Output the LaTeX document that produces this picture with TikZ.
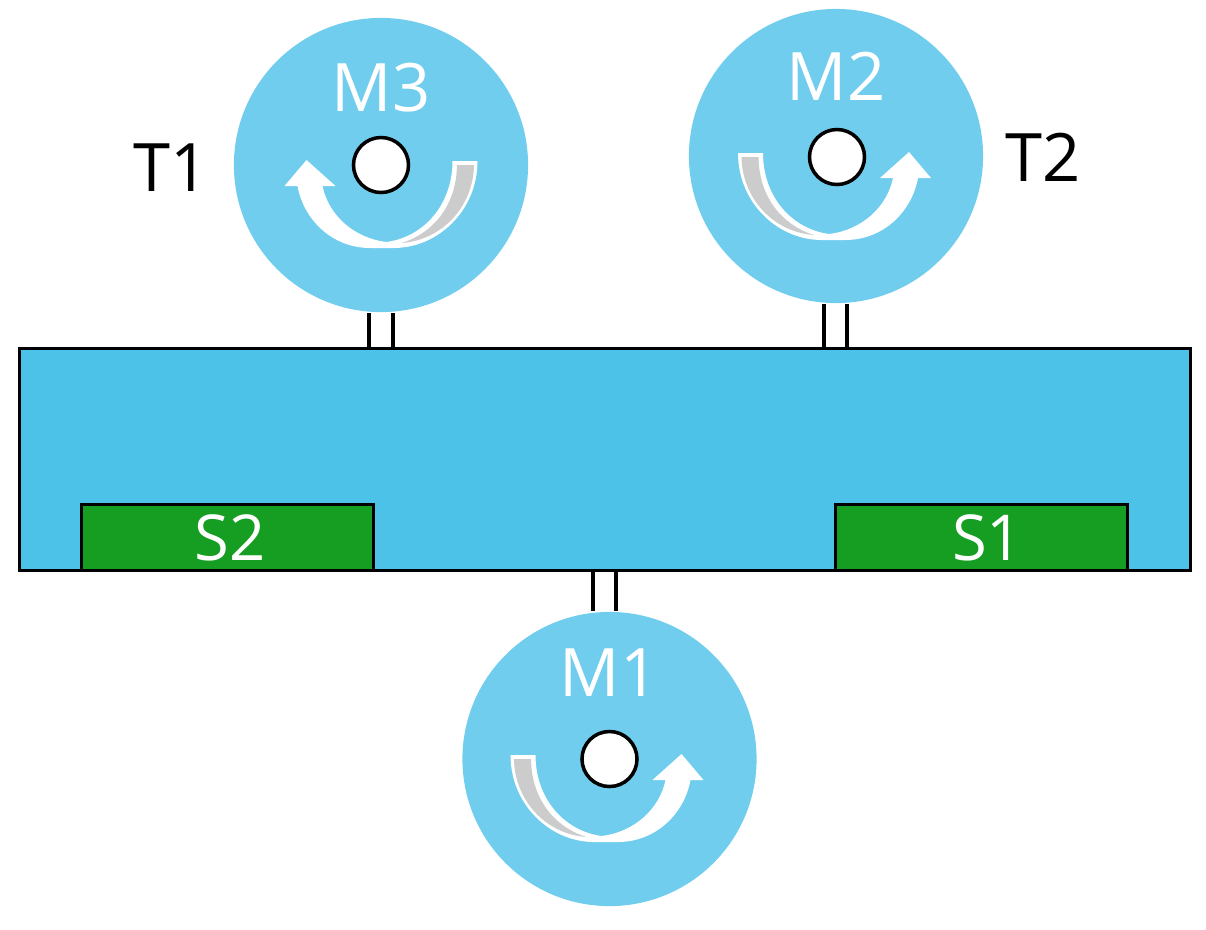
\documentclass[tikz,border=0pt]{standalone}
\usepackage{fontspec}
\setmainfont{Open Sans}
\definecolor{disc}{HTML}{70CDEE}
\definecolor{body}{HTML}{4DC2E8}
\definecolor{pad}{HTML}{169E22}
\definecolor{wear}{HTML}{CCCCCC}
\tikzset{
  motor/.style={circle,fill=disc,minimum size=2.94cm,inner sep=0pt},
  hub/.style={circle,draw=black,line width=1pt,fill=white,minimum size=0.55cm,inner sep=0pt},
  sensor/.style={rectangle,draw=black,line width=0.8pt,fill=pad,text=white,minimum width=2.92cm,minimum height=0.66cm,inner sep=0pt,font=\fontsize{18}{18}\selectfont},
  motorname/.style={text=white,inner sep=0pt,font=\fontsize{19}{19}\selectfont},
  sidename/.style={text=black,inner sep=0pt,font=\fontsize{19}{19}\selectfont},
  shaft/.style={draw=black,line width=1.1pt},
  spin/.pic={
    \fill[white] (-99,-4) .. controls (-99,45) and (-60,83) .. (-15,83) -- (8,83)
      .. controls (47,83) and (75,54) .. (81,21) -- (94,21) -- (72,-5) -- (43,21) -- (56,21)
      .. controls (50,50) and (25,73) .. (-8,77) .. controls (-45,72) and (-74,40) .. (-74,-4) -- cycle;
    \fill[wear] (-95.5,0) .. controls (-95,40) and (-65,75) .. (-23,78)
      .. controls (-55,68) and (-78,40) .. (-78.5,0) -- cycle;
  }
}
\begin{document}
\begin{tikzpicture}[x=0.01cm,y=-0.01cm]
\useasboundingbox (0,0) rectangle (1206,929);
\node [rectangle,draw=black,line width=0.8pt,fill=body,minimum width=11.71cm,minimum height=2.22cm,inner sep=0pt] (bar) at (605,459.5) {};
\node [sensor] (s2) at (227.5,537.5) {\hspace*{1.5pt}\raisebox{-0.6pt}{S2}};
\node [sensor] (s1) at (981.5,537.5) {\hspace*{3.5pt}\raisebox{-0.6pt}{S1}};
\node [motor] (m3) at (381,165) {};
\node [motor] (m2) at (836,156) {};
\node [motor] (m1) at (609.5,759) {};
\node [hub] (h3) at (381,165) {};
\node [hub] (h2) at (837,157) {};
\node [hub] (h1) at (609.5,759) {};
\node [motorname] (n3) at (381,88) {M3};
\node [motorname] (n2) at (836,76) {M2};
\node [motorname] (n1) at (609,673) {M1};
\node [sidename] (t1) at (171,168) {T1};
\node [sidename] (t2) at (1043,157) {T2};
\draw [shaft] ([xshift=-0.12cm]m3.south) -- ([xshift=-0.12cm]m3.south |- bar.north);
\draw [shaft] ([xshift=0.12cm]m3.south) -- ([xshift=0.12cm]m3.south |- bar.north);
\draw [shaft] ([xshift=-0.12cm]m2.south) -- ([xshift=-0.12cm]m2.south |- bar.north);
\draw [shaft] ([xshift=0.11cm]m2.south) -- ([xshift=0.11cm]m2.south |- bar.north);
\draw [shaft] ([xshift=-0.165cm]m1.north) -- ([xshift=-0.165cm]m1.north |- bar.south);
\draw [shaft] ([xshift=0.065cm]m1.north) -- ([xshift=0.065cm]m1.north |- bar.south);
\pic [xscale=-1] at ([xshift=-0.025cm]h3) {spin};
\pic at (h2) {spin};
\pic at (h1) {spin};
\end{tikzpicture}
\end{document}
